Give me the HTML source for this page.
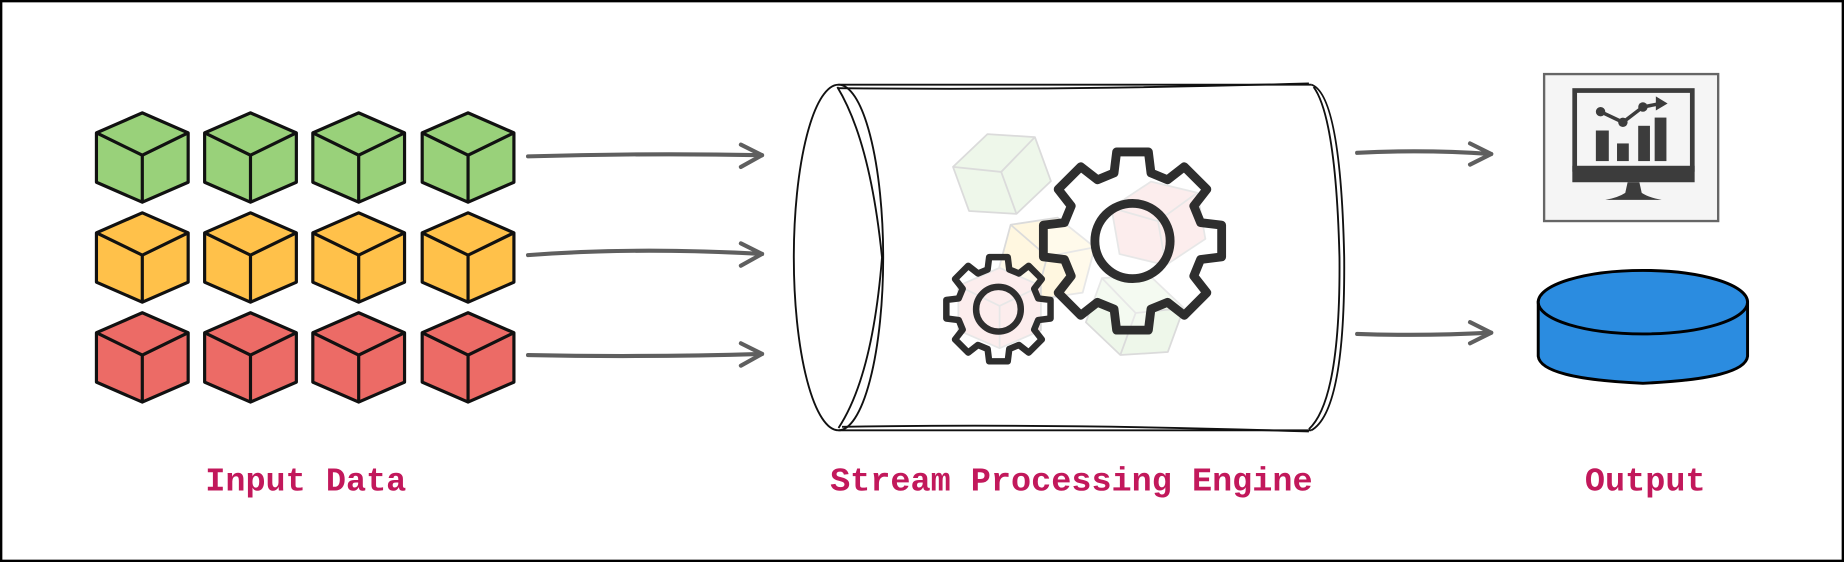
<!DOCTYPE html>
<html><head><meta charset="utf-8"><style>
html,body{margin:0;padding:0;background:#fff}
svg{display:block}
</style></head><body>
<svg id="s" width="1844" height="562" viewBox="0 0 1568 478" preserveAspectRatio="none" xmlns="http://www.w3.org/2000/svg">
<rect x="1" y="1" width="1566" height="476" fill="#fff" stroke="#000" stroke-width="2"/>
<g id="cubes"></g>
<g fill="none" stroke="#5f5f5f" stroke-width="3.5" stroke-linecap="round" stroke-linejoin="round">
<path d="M449 133 Q550 130 648 132"/><path d="M630 123 L648 132 L630 142"/>
<path d="M449 217 Q540 210 648 216"/><path d="M630 207 L648 216 L630 226"/>
<path d="M449 302 Q550 304 648 301"/><path d="M630 292 L648 301 L630 311"/>
<path d="M1154 130 Q1210 127 1268 131"/><path d="M1250 122 L1268 131 L1250 140"/>
<path d="M1154 284 Q1210 286 1268 283"/><path d="M1250 274 L1268 283 L1250 292"/>
</g>
<!-- cylinder -->
<g fill="none" stroke="#111" stroke-width="1.6">
<path d="M713 72 L1115 72"/><path d="M713 75 Q900 77 1113 71"/>
<path d="M713 366 L1115 366"/><path d="M716 363 Q900 360 1113 367"/>
<ellipse cx="713" cy="219" rx="38" ry="147"/>
<path d="M712 74 Q740 120 750 219 Q742 320 713 364"/>
<path d="M1115 72 Q1140 80 1143 219 Q1144 350 1115 366"/>
<path d="M1117 74 Q1136 100 1139 219 Q1140 340 1113 365"/>
</g>
<g id="faded" opacity="0.35"></g>
<g id="gears"></g>
<!-- monitor -->
<rect x="1313" y="63" width="148" height="125" fill="#f5f5f5" stroke="#666" stroke-width="2"/>
<rect x="1339" y="77" width="100" height="67" fill="none" stroke="#3c3c3c" stroke-width="4"/>
<rect x="1337" y="141" width="104" height="14" fill="#3c3c3c"/>
<path d="M1384 155 L1394 155 L1396 164 Q1402 168 1413 170 L1365 170 Q1376 168 1382 164 Z" fill="#3c3c3c"/>
<rect x="1357" y="111" width="11" height="26" fill="#3c3c3c"/>
<rect x="1375" y="122" width="10" height="15" fill="#3c3c3c"/>
<rect x="1393" y="107" width="10" height="30" fill="#3c3c3c"/>
<rect x="1407" y="100" width="10" height="37" fill="#3c3c3c"/>
<path d="M1361 95 L1380 104 L1397 91 L1412 88" fill="none" stroke="#3c3c3c" stroke-width="3"/>
<circle cx="1361" cy="95" r="4" fill="#3c3c3c"/><circle cx="1380" cy="104" r="4" fill="#3c3c3c"/><circle cx="1397" cy="91" r="4" fill="#3c3c3c"/>
<path d="M1408 82 L1418 88 L1408 94 Z" fill="#3c3c3c"/>
<!-- database -->
<path d="M1308 257 L1308 303 Q1310 322 1397 326 Q1484 322 1486 303 L1486 257 Z" fill="#2b8ce0" stroke="#000" stroke-width="2.5"/>
<ellipse cx="1397" cy="257" rx="89" ry="27" fill="#2b8ce0" stroke="#000" stroke-width="2.5"/>
<g font-family="Liberation Mono, monospace" font-weight="bold" font-size="28.5" fill="#c2185b" text-anchor="middle">
<text x="260" y="417">Input Data</text>
<text x="911" y="417">Stream Processing Engine</text>
<text x="1399" y="417">Output</text>
</g>
</svg>
<script>
var NS="http://www.w3.org/2000/svg";
function el(p,t,a){var e=document.createElementNS(NS,t);for(var k in a)e.setAttribute(k,a[k]);p.appendChild(e);return e;}
function cube(g,cx,cy,fill,s,rot){
 s=s||1;
 var P=function(x,y){return (cx+x*s)+","+(cy+y*s);};
 var grp=el(g,"g",rot!==undefined?{transform:"rotate("+rot+" "+cx+" "+cy+")"}:{});
 var st=rot!==undefined?"#999":"#111", w=rot!==undefined?1.5:2.7;
 el(grp,"polygon",{points:[P(0,-38),P(39,-21),P(39,21),P(0,38),P(-39,21),P(-39,-21)].join(" "),fill:fill,stroke:st,"stroke-width":w,"stroke-linejoin":"round"});
 el(grp,"polyline",{points:[P(-39,-21),P(0,-2),P(39,-21)].join(" "),fill:"none",stroke:st,"stroke-width":w});
 el(grp,"line",{x1:cx,y1:cy-2*s,x2:cx,y2:cy+38*s,stroke:st,"stroke-width":w});
}
var cg=document.getElementById("cubes");
var cols=[121,213,305,398],rows=[[134,"#99d17a"],[219,"#ffc14a"],[304,"#ec6b66"]];
rows.forEach(function(r){cols.forEach(function(c){cube(cg,c,r[0],r[1]);});});
var fg=document.getElementById("faded");
cube(fg,852,148,"#cfe9c4",0.95,-20);
cube(fg,890,220,"#ffe9a8",0.95,15);
cube(fg,985,190,"#f5b5b3",0.95,-10);
cube(fg,965,268,"#cfe9c4",0.95,20);
cube(fg,850,262,"#f5b5b3",0.9,0);
function gear(g,cx,cy,ro,ri,n,rc,sw){
 var d="",tw=Math.PI/n*0.5;
 for(var i=0;i<n;i++){
  var a=i*2*Math.PI/n;
  var pts=[[ri,a-tw*1.35],[ro,a-tw*0.9],[ro,a+tw*0.9],[ri,a+tw*1.35]];
  pts.forEach(function(p,j){d+=(i==0&&j==0?"M":"L")+(cx+p[0]*Math.cos(p[1])).toFixed(1)+" "+(cy+p[0]*Math.sin(p[1])).toFixed(1)+" ";});
 }
 d+="Z";
 el(g,"path",{d:d,fill:"rgba(255,255,255,0.35)",stroke:"#2e2e2e","stroke-width":sw,"stroke-linejoin":"round"});
 el(g,"circle",{cx:cx,cy:cy,r:rc,fill:"none",stroke:"#2e2e2e","stroke-width":sw});
}
var gg=document.getElementById("gears");
gear(gg,963,205,77,60,8,32,7.5);
gear(gg,849,263,45,35,8,19,5.5);
</script>
</body></html>
